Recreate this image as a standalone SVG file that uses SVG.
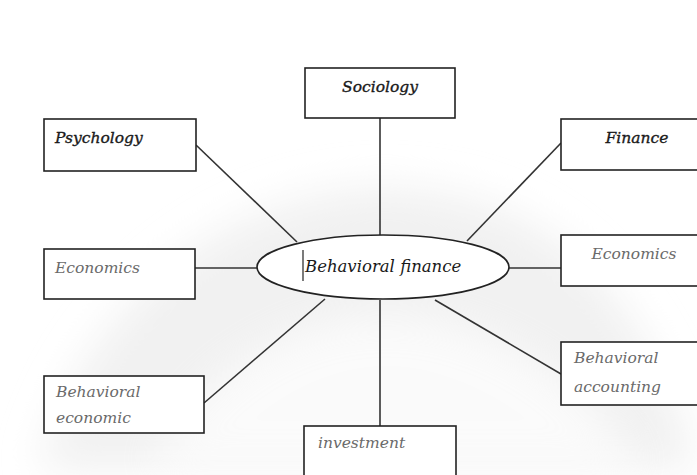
<svg xmlns="http://www.w3.org/2000/svg" width="697" height="475" viewBox="0 0 697 475">
  <style>
    .box { fill: #ffffff; stroke: #222222; stroke-width: 1.6; }
    .link { stroke: #333333; stroke-width: 1.6; fill: none; }
    .lbl { font-family: "DejaVu Serif", "Liberation Serif", serif; font-style: italic; font-size: 15.5px; }
    .dark { fill: #1a1a1a; stroke: #1a1a1a; stroke-width: 0.35; }
    .soft { fill: #6a6a6a; }
    .core { font-family: "DejaVu Serif", "Liberation Serif", serif; font-style: italic; font-size: 16.5px; fill: #1a1a1a; }
  </style>
  <defs>
    <filter id="haze" x="-20%" y="-20%" width="140%" height="140%">
      <feGaussianBlur stdDeviation="20"/>
    </filter>
  </defs>

  <rect x="0" y="0" width="697" height="475" fill="#ffffff"/>
  <!-- faint background shading -->
  <path d="M40 470 C 80 300, 250 170, 420 190 C 560 205, 640 300, 690 440 L 690 470 Z" fill="#f1f1f1" filter="url(#haze)"/>
  <path d="M150 470 C 200 360, 320 300, 430 320 C 530 340, 600 400, 640 470 Z" fill="#ffffff" opacity="0.7" filter="url(#haze)"/>

  <g id="connectors">
    <line class="link" x1="380" y1="118" x2="380" y2="235"/>
    <line class="link" x1="196" y1="145" x2="297" y2="242"/>
    <line class="link" x1="561" y1="143" x2="467" y2="241"/>
    <line class="link" x1="195" y1="268" x2="257" y2="268"/>
    <line class="link" x1="509" y1="268" x2="561" y2="268"/>
    <line class="link" x1="204" y1="403" x2="325" y2="299"/>
    <line class="link" x1="435" y1="300" x2="561" y2="374"/>
    <line class="link" x1="380" y1="300" x2="380" y2="426"/>
  </g>

  <g id="sociology">
    <rect class="box" x="305" y="68" width="150" height="50"/>
    <text class="lbl dark" x="380" y="92" text-anchor="middle">Sociology</text>
  </g>
  <g id="psychology">
    <rect class="box" x="44" y="119" width="152" height="52"/>
    <text class="lbl dark" x="55" y="143">Psychology</text>
  </g>
  <g id="finance">
    <rect class="box" x="561" y="119" width="140" height="51"/>
    <text class="lbl dark" x="637" y="143" text-anchor="middle">Finance</text>
  </g>
  <g id="economics-left">
    <rect class="box" x="44" y="249" width="151" height="50"/>
    <text class="lbl soft" x="55" y="273">Economics</text>
  </g>
  <g id="economics-right">
    <rect class="box" x="561" y="235" width="140" height="51"/>
    <text class="lbl soft" x="634" y="259" text-anchor="middle">Economics</text>
  </g>
  <g id="behavioral-economic">
    <rect class="box" x="44" y="376" width="160" height="57"/>
    <text class="lbl soft" x="56" y="397">Behavioral</text>
    <text class="lbl soft" x="56" y="423">economic</text>
  </g>
  <g id="behavioral-accounting">
    <rect class="box" x="561" y="342" width="140" height="63"/>
    <text class="lbl soft" x="574" y="363">Behavioral</text>
    <text class="lbl soft" x="574" y="392">accounting</text>
  </g>
  <g id="investment">
    <rect class="box" x="304" y="426" width="152" height="50"/>
    <text class="lbl soft" x="318" y="448">investment</text>
  </g>
  <g id="behavioral-finance">
    <ellipse cx="383" cy="267" rx="126" ry="32" fill="#ffffff" stroke="#222222" stroke-width="1.6"/>
    <line x1="303" y1="250" x2="303" y2="281" stroke="#222222" stroke-width="1.2"/>
    <text class="core" x="305" y="272">Behavioral finance</text>
  </g>
</svg>
